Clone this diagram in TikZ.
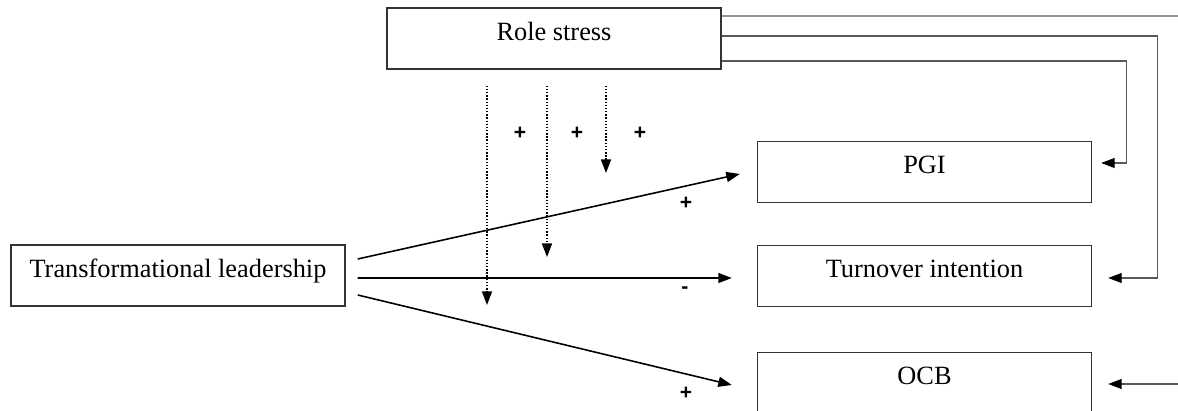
\documentclass[tikz,border=0pt]{standalone}
\usepackage{fontspec}
\setmainfont{Liberation Serif}
\newfontfamily\signfont{Liberation Sans}
\usetikzlibrary{arrows.meta,calc}
\tikzset{
    box/.style={draw=black!80, line width=0.85pt, minimum width=6.68cm,
        text height=0.64cm, text depth=0.56cm, inner ysep=0.01cm, inner xsep=0pt,
        font=\fontsize{15}{18}\selectfont},
    arr/.style={line width=0.9pt, -{Triangle[length=0.27cm,width=0.2cm]}},
    dotarr/.style={line width=0.8pt, densely dotted, -{Triangle[length=0.27cm,width=0.2cm]}},
    link/.style={draw=black!65, line width=0.6pt},
    linkarr/.style={link, -{Triangle[length=0.27cm,width=0.2cm,color=black]}},
    sign/.style={font=\signfont\bfseries\fontsize{12}{14}\selectfont, inner sep=0pt}
}
\begin{document}
\begin{tikzpicture}[x=0.02cm,y=-0.02cm]
            \useasboundingbox (0,0) rectangle (1178,411);
            \clip (0,0) rectangle (1178,411);
            % boxes
            \node[box] (rs) at (554,38.5) {Role stress};
            \node[box] (pgi) at (924.5,172) {PGI};
            \node[box] (ti) at (924.5,276) {Turnover intention};
            \node[box] (ocb) at (924.5,383) {OCB};
            \node[box] (tl) at (178,275.5) {Transformational leadership};
            % direct effects
            \draw[arr] ([xshift=0.24cm,yshift=0.33cm]tl.east) -- ([xshift=-0.34cm,yshift=-0.04cm]pgi.west);
            \draw[arr] ([xshift=0.24cm,yshift=-0.05cm]tl.east) -- ([xshift=-0.5cm,yshift=-0.04cm]ti.west);
            \draw[arr] ([xshift=0.24cm,yshift=-0.39cm]tl.east) -- ([xshift=-0.5cm,yshift=-0.04cm]ocb.west);
            \node[sign] (s4) at (686,203) {+};
            \node[sign] (s5) at (685,290) {-};
            \node[sign] (s6) at (686,393) {+};
            % moderation
            \coordinate (m1) at (487,305);
            \coordinate (m2) at (547,257);
            \coordinate (m3) at (606,173);
            \foreach \i in {1,2,3} {
                \draw[dotarr] ($(rs.south -| m\i)+(0,16)$) -- (m\i);
            }
            \foreach \x [count=\i] in {520,577,640} {
                \node[sign] (s\i) at (\x,133) {+};
            }
            % role stress links
            \coordinate (out) at (1178,16);
            \coordinate (ocbin) at (1178,384);
            \draw[link] ([yshift=0.45cm]rs.east) -- (out);
            \draw[linkarr] ([yshift=0.05cm]rs.east) -- ++(436,0) |- ([xshift=0.32cm,yshift=-0.04cm]ti.east);
            \draw[linkarr] ([yshift=-0.45cm]rs.east) -- ++(405,0) |- ([xshift=0.18cm,yshift=0.18cm]pgi.east);
            \draw[linkarr] (ocbin) -- (ocbin -| {$(ocb.east)+(16,0)$});
\end{tikzpicture}
\end{document}
